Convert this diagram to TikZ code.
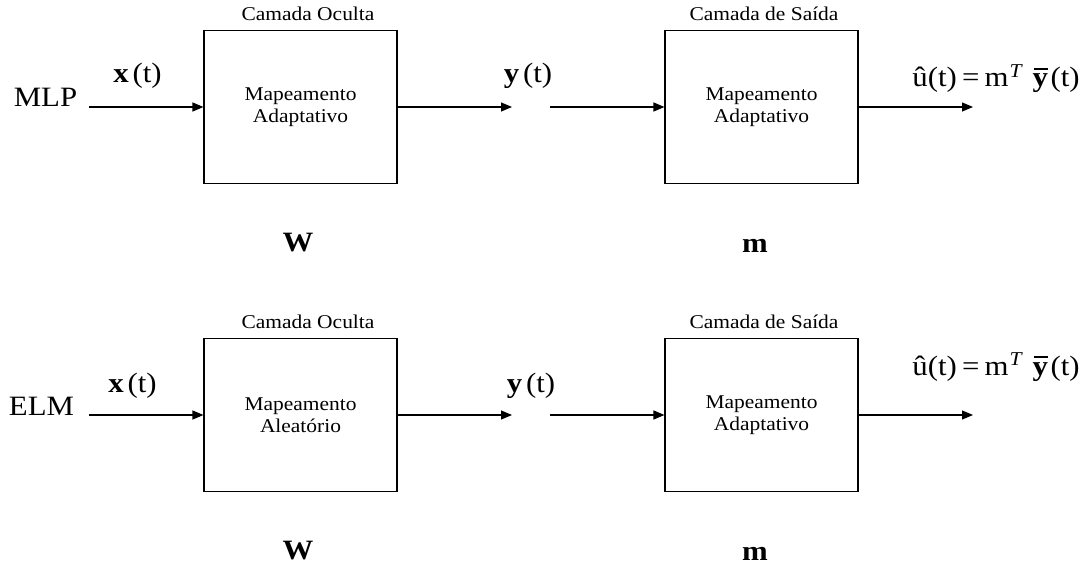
\documentclass[tikz,border=0pt]{standalone}
\usepackage{graphicx}
\usepackage{fontspec}
\setmainfont{Liberation Serif}
\usetikzlibrary{arrows.meta}

% slightly widened lettering
\newcommand{\wide}[1]{\scalebox{1.1}[1]{#1}}
% bold y with an overbar
\newcommand{\ybar}{\leavevmode\rlap{\kern0.03em\rule[0.62em]{0.46em}{0.06em}}\textbf{y}}
% output estimate
\newcommand{\uhat}{\wide{û(t)\,=\,m\textsuperscript{\kern0.05em\textit{T}}\kern0.3em\ybar\kern0.08em(t)}}

\begin{document}
\begin{tikzpicture}[x=1pt,y=-1pt,
  box/.style={draw, line width=1.1pt, minimum width=193pt, minimum height=153pt,
              inner sep=0pt, align=center, font=\fontsize{19.5}{22.5}\selectfont},
  layertitle/.style={inner sep=0pt, anchor=base, font=\fontsize{19.5}{22.5}\selectfont},
  tag/.style={inner sep=0pt, anchor=base, font=\fontsize{28}{32}\selectfont},
  sig/.style={inner sep=0pt, anchor=base, font=\fontsize{28}{32}\selectfont},
  wt/.style={inner sep=0pt, anchor=base, font=\fontsize{28}{32}\selectfont\bfseries},
  arr/.style={line width=1.1pt, -{Triangle[length=11pt,width=9pt]}}]

\useasboundingbox (0,0) rectangle (1091,564);

% ---------- MLP ----------
\node[tag] (mlp) at (45.5,107) {\wide{MLP}};
\coordinate (in1) at (89,107);
\node[box] (h1) at (300.5,107) {\wide{Mapeamento}\\\wide{Adaptativo}};
\node[layertitle] (c1) at (308,21) {\wide{Camada Oculta}};
\coordinate (ya1) at (512,107);
\coordinate (yb1) at (550,107);
\node[box] (o1) at (761.5,107) {\wide{Mapeamento}\\\wide{Adaptativo}};
\node[layertitle] (s1) at (764,21) {\wide{Camada de Saída}};
\coordinate (out1) at (973,107);

\node[sig] (x1) at (137.5,83) {\wide{\textbf{x}\kern0.12em(t)}};
\node[sig] (y1) at (528,83) {\wide{\textbf{y}\kern0.12em(t)}};
\node[sig] (u1) at (996,87) {\uhat};
\node[wt] (w1) at (298,251) {\wide{W}};
\node[wt] (m1) at (755,252) {\wide{m}};

\draw[arr] (in1) -- (h1);
\draw[arr] (h1) -- (ya1);
\draw[arr] (yb1) -- (o1);
\draw[arr] (o1) -- (out1);

% ---------- ELM ----------
\node[tag] (elm) at (41.5,415) {\wide{ELM}};
\coordinate (in2) at (89,415);
\node[box] (h2) at (300.5,415) {\wide{Mapeamento}\\\wide{Aleatório}};
\node[layertitle] (c2) at (308,328) {\wide{Camada Oculta}};
\coordinate (ya2) at (512,415);
\coordinate (yb2) at (550,415);
\node[box] (o2) at (761.5,415) {\wide{Mapeamento}\\\wide{Adaptativo}};
\node[layertitle] (s2) at (764,328) {\wide{Camada de Saída}};
\coordinate (out2) at (973,415);

\node[sig] (x2) at (132.5,392) {\wide{\textbf{x}\kern0.12em(t)}};
\node[sig] (y2) at (531,392) {\wide{\textbf{y}\kern0.12em(t)}};
\node[sig] (u2) at (996,375) {\uhat};
\node[wt] (w2) at (298,559) {\wide{W}};
\node[wt] (m2) at (755,560) {\wide{m}};

\draw[arr] (in2) -- (h2);
\draw[arr] (h2) -- (ya2);
\draw[arr] (yb2) -- (o2);
\draw[arr] (o2) -- (out2);
\end{tikzpicture}
\end{document}
